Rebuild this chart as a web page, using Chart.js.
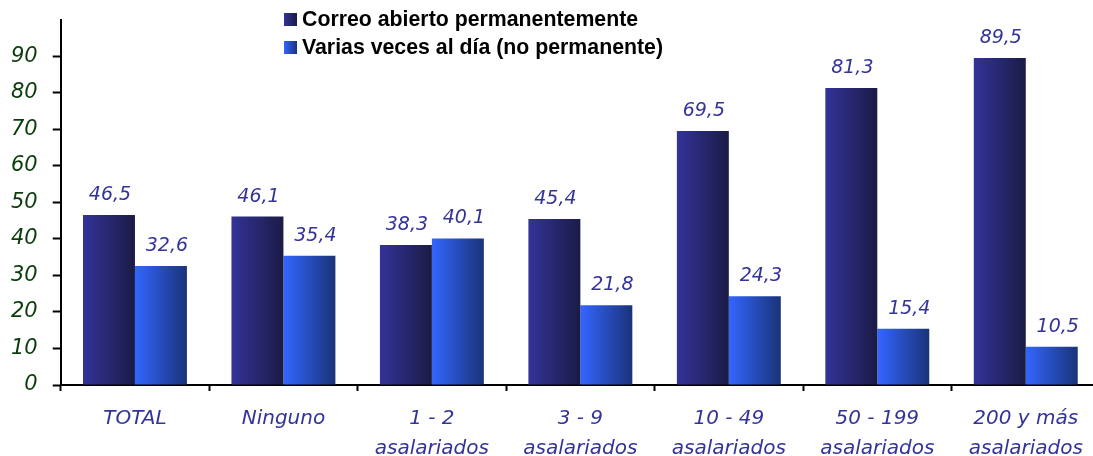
<!DOCTYPE html>
<html>
<head>
<meta charset="utf-8">
<script src="https://cdn.jsdelivr.net/npm/chart.js@4/dist/chart.umd.min.js"></script>
<style>
  html, body { margin: 0; padding: 0; background: #fff; overflow: hidden; }
  #wrap { position: relative; top: -8px; width: 1100px; height: 472px; }
  #legend { position: absolute; left: 284px; top: 13px; font: bold 21.3px "Liberation Sans", Arial, sans-serif; color: #000; }
  #legend div { height: 28px; line-height: 28px; white-space: nowrap; }
  #legend span.box { display: inline-block; width: 13px; height: 13px; margin-right: 5px; vertical-align: 0px; }
</style>
</head>
<body>
<div id="wrap">
  <canvas id="chart"></canvas>
  <div id="legend"></div>
</div>
<script>
// Chart data
const categories = [
  ['TOTAL'], ['Ninguno'], ['1 - 2', 'asalariados'], ['3 - 9', 'asalariados'],
  ['10 - 49', 'asalariados'], ['50 - 199', 'asalariados'], ['200 y más', 'asalariados']
];
const seriesNames = ['Correo abierto permanentemente', 'Varias veces al día (no permanente)'];
const abiertoValues = [46.5, 46.1, 38.3, 45.4, 69.5, 81.3, 89.5];
const variasValues = [32.6, 35.4, 40.1, 21.8, 24.3, 15.4, 10.5];
const yTicks = [0, 10, 20, 30, 40, 50, 60, 70, 80, 90];

const gradStops = [
  ['#333399', '#1b1b46'],
  ['#3366ff', '#1a3378']
];
const catPct = 0.7;
const labelShift = [1, 6];

// Horizontal gradient per bar, built from the x scale
function barGradient(c) {
  const chart = c.chart;
  const stops = gradStops[c.datasetIndex];
  const xs = chart.scales.x;
  if (!chart.chartArea || !xs || c.dataIndex === undefined) return stops[0];
  const cx = xs.getPixelForValue(c.dataIndex);
  const w = (xs.width / categories.length) * catPct / 2;
  const x0 = c.datasetIndex === 0 ? cx - w : cx;
  const g = chart.ctx.createLinearGradient(x0, 0, x0 + w, 0);
  g.addColorStop(0, stops[0]);
  g.addColorStop(1, stops[1]);
  return g;
}

// Value labels above the bars
const valueLabels = {
  id: 'valueLabels',
  afterDatasetsDraw(chart) {
    const ctx = chart.ctx;
    ctx.save();
    ctx.font = 'italic 19px "DejaVu Sans", Verdana, sans-serif';
    ctx.fillStyle = '#333399';
    ctx.textAlign = 'center';
    ctx.textBaseline = 'alphabetic';
    chart.data.datasets.forEach((ds, i) => {
      chart.getDatasetMeta(i).data.forEach((bar, j) => {
        ctx.fillText(ds.data[j].toFixed(1).replace('.', ','), bar.x + labelShift[i], bar.y - 15);
      });
    });
    ctx.restore();
  }
};

// HTML legend
const legendEl = document.getElementById('legend');
seriesNames.forEach((name, i) => {
  const row = document.createElement('div');
  row.innerHTML = '<span class="box" style="background:linear-gradient(to right,' +
    gradStops[i][0] + ',' + gradStops[i][1] + ')"></span>' + name;
  legendEl.appendChild(row);
});

new Chart(document.getElementById('chart'), {
  type: 'bar',
  data: {
    labels: categories,
    datasets: [
      { label: seriesNames[0], data: abiertoValues, backgroundColor: barGradient,
        categoryPercentage: catPct, barPercentage: 1 },
      { label: seriesNames[1], data: variasValues, backgroundColor: barGradient,
        categoryPercentage: catPct, barPercentage: 1 }
    ]
  },
  plugins: [valueLabels],
  options: {
    responsive: true,
    maintainAspectRatio: false,
    animation: false,
    layout: { padding: { left: -4, right: 0, top: 0, bottom: -13 } },
    plugins: {
      legend: { display: false },
      tooltip: { enabled: false }
    },
    scales: {
      x: {
        border: { color: '#000', width: 2 },
        grid: { drawOnChartArea: false, tickLength: 6, tickWidth: 2, tickColor: '#000' },
        ticks: {
          color: '#333399',
          padding: 13,
          maxRotation: 0,
          font: { family: '"DejaVu Sans", Verdana, sans-serif', size: 20, style: 'italic', lineHeight: 1.5 }
        }
      },
      y: {
        min: 0,
        max: 100,
        border: { color: '#000', width: 2 },
        grid: {
          drawOnChartArea: false, tickLength: 8, tickWidth: 2,
          tickColor: c => (c.tick && yTicks.includes(c.tick.value)) ? '#000' : 'rgba(0,0,0,0)'
        },
        ticks: {
          stepSize: 10,
          color: '#0b3d0b',
          padding: 15,
          callback: v => yTicks.includes(v) ? String(v) : '',
          font: { family: '"DejaVu Sans", Verdana, sans-serif', size: 21, style: 'italic' }
        }
      }
    }
  }
});
</script>
</body>
</html>
